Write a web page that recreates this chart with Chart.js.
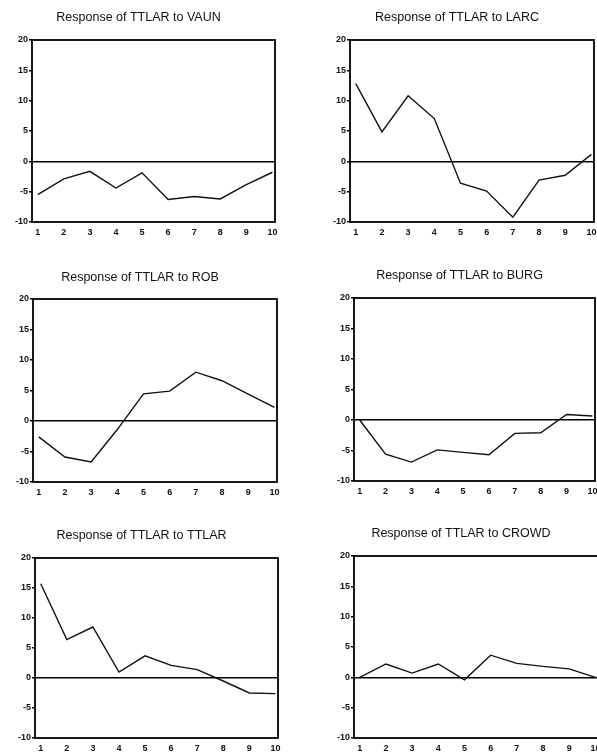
<!DOCTYPE html>
<html>
<head>
<meta charset="utf-8">
<script src="https://cdn.jsdelivr.net/npm/chart.js@4"></script>
<style>
  html, body { margin:0; padding:0; background:#fff; width:597px; height:753px; overflow:hidden; position:relative; }
  .panel { position:absolute; }
</style>
</head>
<body>
<div class="panel" id="p1"><canvas id="c1"></canvas></div>
<div class="panel" id="p2"><canvas id="c2"></canvas></div>
<div class="panel" id="p3"><canvas id="c3"></canvas></div>
<div class="panel" id="p4"><canvas id="c4"></canvas></div>
<div class="panel" id="p5"><canvas id="c5"></canvas></div>
<div class="panel" id="p6"><canvas id="c6"></canvas></div>
<script>
// ---- data ----
const periods = [1, 2, 3, 4, 5, 6, 7, 8, 9, 10];
const yTicks = [-10, -5, 0, 5, 10, 15, 20];
const titles = [
  "Response of TTLAR to VAUN",
  "Response of TTLAR to LARC",
  "Response of TTLAR to ROB",
  "Response of TTLAR to BURG",
  "Response of TTLAR to TTLAR",
  "Response of TTLAR to CROWD"
];
const vaun  = [-5.5, -2.9, -1.65, -4.4, -1.9, -6.3, -5.8, -6.2, -3.85, -1.8];
const larc  = [12.8, 4.85, 10.8, 7.05, -3.6, -4.9, -9.2, -3.1, -2.3, 1.15];
const rob   = [-2.6, -5.9, -6.7, -1.4, 4.45, 4.9, 8.0, 6.6, 4.4, 2.25];
const burg  = [0, -5.6, -6.9, -4.9, -5.3, -5.7, -2.2, -2.1, 0.9, 0.65];
const ttlar = [15.7, 6.4, 8.5, 1.0, 3.7, 2.1, 1.4, -0.5, -2.5, -2.6];
const crowd = [0, 2.2, 0.7, 2.2, -0.4, 3.65, 2.3, 1.8, 1.4, 0];
const series = [vaun, larc, rob, burg, ttlar, crowd];

// ---- layout (container boxes) ----
const boxes = [
  {left:2,   top:10,  width:303, height:232, padB:15},
  {left:320, top:10,  width:304, height:232, padB:15},
  {left:3,   top:270, width:304, height:232, padB:14},
  {left:324, top:268, width:301, height:233, padB:15},
  {left:5,   top:528, width:303, height:230, padB:15},
  {left:324, top:526, width:304, height:232, padB:15}
];

const frame = {
  id: 'frame',
  afterDatasetsDraw(chart) {
    const a = chart.chartArea, c = chart.ctx;
    c.save();
    c.strokeStyle = '#000';
    c.lineWidth = 1.8;
    c.strokeRect(a.left, a.top, a.right - a.left, a.bottom - a.top);
    c.restore();
  }
};

const FONT = "'Liberation Sans', Arial, sans-serif";

series.forEach((vals, i) => {
  const b = boxes[i];
  const div = document.getElementById('p' + (i + 1));
  div.style.left = b.left + 'px';
  div.style.top = b.top + 'px';
  div.style.width = b.width + 'px';
  div.style.height = b.height + 'px';
  new Chart(document.getElementById('c' + (i + 1)), {
    type: 'line',
    data: {
      datasets: [{
        data: periods.map((p, k) => ({x: p, y: vals[k]})),
        borderColor: '#111',
        borderWidth: 1.4,
        pointRadius: 0,
        tension: 0,
        fill: false
      }]
    },
    options: {
      responsive: true,
      maintainAspectRatio: false,
      animation: false,
      layout: { padding: { left: 0, right: 30, top: 0, bottom: 0 } },
      plugins: {
        legend: { display: false },
        tooltip: { enabled: false },
        title: {
          display: true,
          text: titles[i],
          color: '#111',
          font: { family: FONT, size: 12.5, weight: 'normal', lineHeight: 1.2 },
          padding: { top: 0, bottom: b.padB }
        }
      },
      scales: {
        x: {
          type: 'linear',
          min: 0.78,
          max: 10.1,
          afterBuildTicks: s => { s.ticks = periods.map(v => ({value: v})); },
          afterFit: s => { s.height = 20; },
          grid: { display: false, drawTicks: false },
          border: { display: false },
          ticks: { color: '#111', padding: 5, maxRotation: 0, autoSkip: false,
                   font: { family: FONT, size: 9, weight: 'bold' } }
        },
        y: {
          min: -10,
          max: 20,
          afterBuildTicks: s => { s.ticks = yTicks.map(v => ({value: v})); },
          afterFit: s => { s.width = 30; },
          border: { display: false },
          grid: {
            drawOnChartArea: true,
            drawTicks: true,
            tickLength: 3,
            tickColor: '#000',
            lineWidth: 1.5,
            color: ctx => (ctx.tick && ctx.tick.value === 0) ? '#000' : 'rgba(0,0,0,0)'
          },
          ticks: { color: '#111', padding: 1,
                   font: { family: FONT, size: 9, weight: 'bold' } }
        }
      }
    },
    plugins: [frame]
  });
});
</script>
</body>
</html>
